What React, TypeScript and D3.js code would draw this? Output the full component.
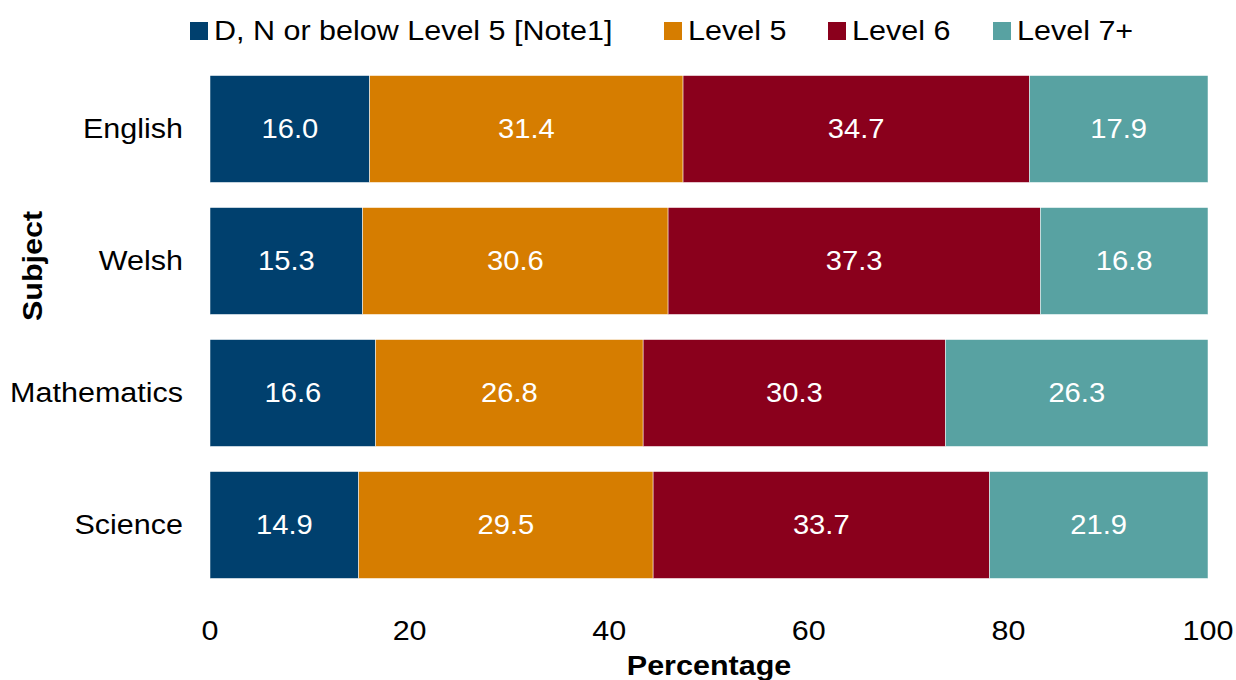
import * as d3 from "d3";

const subjects = ["English", "Welsh", "Mathematics", "Science"];
const levels = ["D, N or below Level 5 [Note1]", "Level 5", "Level 6", "Level 7+"];
const belowLevel5 = [16.0, 15.3, 16.6, 14.9];
const level5 = [31.4, 30.6, 26.8, 29.5];
const level6 = [34.7, 37.3, 30.3, 33.7];
const level7Plus = [17.9, 16.8, 26.3, 21.9];
const xTicks = [0, 20, 40, 60, 80, 100];
const colors = ["#00406e", "#d67d00", "#8a001c", "#58a2a2"];

const legendX = [190, 664, 828, 993];

// the reference text is a bit wider than Liberation Sans at the same height
function Label({ x, y, sx = 1.13, rotate = 0, children, ...rest }: any) {
  return (
    <text
      transform={`translate(${x}, ${y}) rotate(${rotate}) scale(${sx}, 1)`}
      dominantBaseline="central"
      fontSize={27}
      fill="#000"
      {...rest}
    >
      {children}
    </text>
  );
}

export default function App() {
  const width = 1236;
  const height = 680;
  const margin = { top: 63, right: 28, bottom: 89, left: 210 };
  const innerWidth = width - margin.left - margin.right;
  const innerHeight = height - margin.top - margin.bottom;

  const series = [belowLevel5, level5, level6, level7Plus];
  const rows = subjects.map((s, i) => {
    const row: Record<string, number | string> = { subject: s };
    levels.forEach((l, j) => (row[l] = series[j][i]));
    return row;
  });
  const stacked = d3.stack<any>().keys(levels)(rows);

  const x = d3.scaleLinear().domain([0, 100]).range([0, innerWidth]);
  const y = d3
    .scaleBand()
    .domain(subjects)
    .range([0, innerHeight])
    .paddingInner(0.19)
    .paddingOuter(0.095);

  const font = "'Liberation Sans', Arial, sans-serif";

  return (
    <svg width={width} height={height} style={{ position: "absolute", left: 0, top: 0 }} fontFamily={font}>
      <rect width={width} height={height} fill="#fff" />

      {levels.map((l, i) => (
        <g key={l} transform={`translate(${legendX[i]}, 22)`}>
          <rect width={18} height={18} fill={colors[i]} />
          <Label x={24} y={9}>
            {l}
          </Label>
        </g>
      ))}

      <g transform={`translate(${margin.left}, ${margin.top})`}>
        {stacked.map((layer, li) => (
          <g key={layer.key}>
            {layer.map((d, i) => {
              const bx = x(d[0]);
              const bw = x(d[1]) - x(d[0]);
              const by = y(subjects[i]) ?? 0;
              return (
                <g key={subjects[i]}>
                  <rect
                    x={bx}
                    y={by}
                    width={bw}
                    height={y.bandwidth()}
                    fill={colors[li]}
                    stroke="#fff"
                    strokeWidth={0.5}
                  />
                  <Label x={bx + bw / 2} y={by + y.bandwidth() / 2} sx={1.08} textAnchor="middle" fill="#fff">
                    {(d[1] - d[0]).toFixed(1)}
                  </Label>
                </g>
              );
            })}
          </g>
        ))}

        {subjects.map((s) => (
          <Label key={s} x={-27} y={(y(s) ?? 0) + y.bandwidth() / 2} textAnchor="end">
            {s}
          </Label>
        ))}

        {xTicks.map((t) => (
          <Label key={t} x={x(t)} y={innerHeight + 40} textAnchor="middle">
            {t}
          </Label>
        ))}

        <Label x={innerWidth / 2} y={innerHeight + 75} textAnchor="middle" fontWeight="bold">
          Percentage
        </Label>
      </g>

      <Label x={33} y={266} rotate={-90} textAnchor="middle" fontWeight="bold">
        Subject
      </Label>
    </svg>
  );
}
